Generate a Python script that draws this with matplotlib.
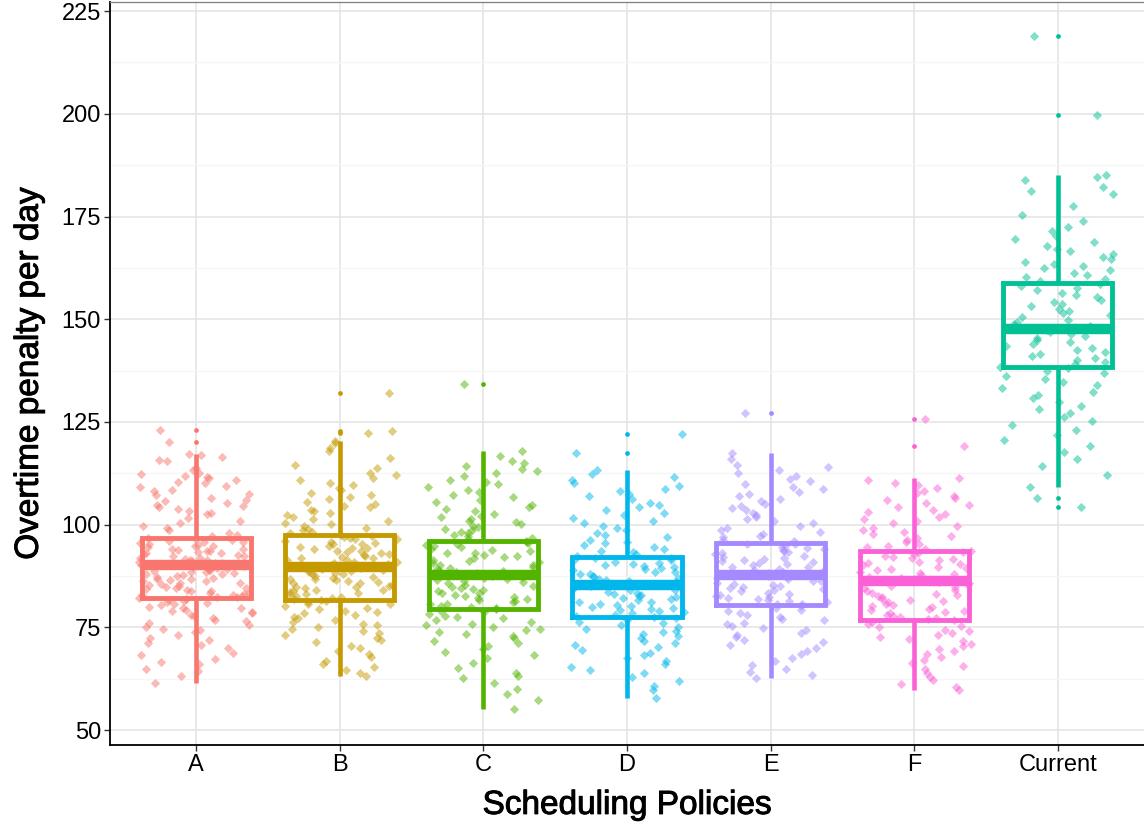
import numpy as np
import matplotlib
matplotlib.use("Agg")
import matplotlib.pyplot as plt
import matplotlib.patheffects as pe

plt.rcParams["font.family"] = ["Liberation Sans", "DejaVu Sans"]

policies = ["A", "B", "C", "D", "E", "F", "Current"]
colors = ["#F8766D", "#C49A00", "#53B400", "#00B6EB", "#A58AFF", "#FB61D7", "#00C094"]

# box summaries per policy
q1 = [82.1, 81.6, 79.6, 77.5, 80.4, 76.9, 138.3]
medians = [90.1, 89.6, 87.7, 85.4, 87.7, 86.2, 147.7]
q3 = [96.8, 97.4, 96.1, 92.1, 95.5, 93.5, 158.8]
whisker_lo = [61.4, 63.3, 55.1, 57.9, 62.8, 59.7, 109.1]
whisker_hi = [117.2, 120.4, 118.0, 113.3, 117.4, 111.3, 185.0]
outliers = [
    [123.1, 120.1],
    [132.0, 122.9, 122.3],
    [134.2],
    [122.1, 117.4],
    [127.3],
    [125.7, 119.2],
    [219.0, 199.8, 106.6, 104.4],
]

# daily overtime penalties, one list per policy
pen_a = [123.1, 120.1, 117.2, 117.0, 116.4, 115.8, 115.6, 113.7, 113.3, 112.6, 112.3, 111.5, 111.4, 111.8,
         110.8, 110.5, 110.2, 109.4, 109.3, 108.5, 108.2, 107.2, 107.4, 106.5, 106.1, 105.7, 105.3, 104.8,
         104.5, 104.4, 103.8, 103.3, 102.8, 102.5, 101.7, 100.9, 100.3, 99.6, 99.2, 98.8, 98.1, 97.5, 97.2,
         96.7, 96.5, 96.3, 96.0, 95.9, 95.7, 95.5, 95.2, 95.1, 94.9, 94.8, 94.5, 94.2, 94.1, 93.9, 93.7,
         93.6, 93.4, 93.2, 93.0, 92.9, 92.7, 92.4, 92.3, 92.0, 91.8, 91.7, 91.5, 91.3, 91.1, 90.9, 90.8,
         90.6, 90.4, 90.3, 90.2, 90.1, 90.0, 89.8, 89.7, 89.5, 89.3, 89.1, 88.9, 88.8, 88.6, 88.4, 88.2,
         88.1, 87.9, 87.7, 87.5, 87.2, 87.0, 86.9, 86.7, 86.5, 86.4, 86.2, 85.9, 85.8, 85.5, 85.3, 85.2,
         84.8, 84.7, 84.5, 84.3, 84.0, 83.9, 83.8, 83.5, 83.3, 83.2, 82.9, 82.8, 82.6, 82.5, 82.3, 82.2,
         81.9, 81.6, 81.4, 81.2, 80.9, 80.6, 80.5, 80.1, 79.8, 79.7, 79.2, 78.9, 78.8, 78.6, 78.1, 77.9,
         77.4, 76.8, 76.5, 76.2, 75.6, 75.1, 74.7, 74.4, 73.9, 73.2, 72.4, 71.9, 71.3, 70.7, 70.1, 68.9,
         68.2, 67.4, 66.5, 66.1, 64.9, 64.4, 63.2, 61.4]
pen_b = [132.0, 122.9, 122.3, 120.4, 119.8, 118.7, 117.9, 116.3, 114.5, 113.7, 112.6, 112.1, 111.3, 110.8,
         110.2, 109.7, 108.9, 108.4, 107.6, 107.3, 106.8, 106.2, 105.5, 105.1, 104.6, 104.2, 103.7, 103.4,
         102.9, 102.3, 101.8, 101.4, 100.9, 100.5, 100.1, 99.7, 99.3, 98.9, 98.6, 98.2, 97.9, 97.6,
         97.3, 97.1, 96.8, 96.6, 96.5, 96.1, 95.8, 95.6, 95.3, 95.2, 94.9, 94.6, 94.4, 94.3, 94.0, 93.7,
         93.5, 93.4, 93.1, 92.8, 92.6, 92.5, 92.2, 91.9, 91.8, 91.5, 91.3, 91.0, 90.9, 90.7, 90.4, 90.2,
         90.0, 89.9, 89.7, 89.6, 89.5, 89.3, 89.1, 88.8, 88.7, 88.4, 88.2, 88.0, 87.9, 87.6, 87.4, 87.1,
         86.9, 86.8, 86.5, 86.3, 86.0, 85.8, 85.7, 85.4, 85.1, 84.9, 84.8, 84.5, 84.2, 84.1, 83.8, 83.6,
         83.3, 83.1, 82.9, 82.7, 82.4, 82.2, 82.0, 81.8,
         81.4, 81.1, 80.8, 80.6, 80.2, 79.8, 79.5, 79.1, 78.7, 78.4, 78.0, 77.6, 77.3, 76.9, 76.4, 75.9,
         75.5, 75.2, 74.6, 74.1, 73.7, 73.1, 72.5, 72.0, 71.4, 70.6, 69.9, 69.2, 68.5, 67.8, 66.9, 66.2,
         65.4, 64.7, 63.9, 63.3]
pen_c = [134.2, 118.0, 116.8, 115.4, 114.9, 114.2, 113.6, 113.1, 112.5, 111.9, 111.0, 110.4, 109.8, 109.2,
         108.5, 107.9, 107.3, 106.8, 106.1, 105.5, 104.9, 104.3, 103.8, 103.3, 102.7, 102.2, 101.9, 101.4,
         100.9, 100.6, 100.2, 99.7, 99.4, 99.0, 98.6, 98.3, 97.9, 97.6, 97.2, 96.8, 96.5,
         96.0, 95.8, 95.5, 95.3, 95.0, 94.8, 94.5, 94.1, 93.9, 93.6, 93.2, 93.0, 92.7, 92.3, 92.1, 91.8,
         91.4, 91.2, 90.9, 90.6, 90.3, 90.1, 89.8, 89.5, 89.3, 89.0, 88.7, 88.5, 88.2, 88.0, 87.8, 87.7,
         87.5, 87.3, 87.0, 86.8, 86.5, 86.2, 86.0, 85.7, 85.4, 85.2, 84.9, 84.6, 84.3, 84.1, 83.8, 83.5,
         83.3, 83.0, 82.7, 82.4, 82.2, 81.9, 81.6, 81.4, 81.1, 80.8, 80.6, 80.3, 80.0, 79.8,
         79.4, 79.0, 78.7, 78.3, 77.9, 77.6, 77.2, 76.8, 76.3, 75.9, 75.6, 75.2, 74.7, 74.3, 73.8, 73.5,
         72.9, 72.4, 71.8, 71.2, 70.6, 69.8, 69.1, 68.3, 67.5, 66.4, 65.2, 64.0, 63.3, 62.8, 61.6, 60.1,
         58.9, 57.4, 55.1]
pen_d = [122.1, 117.4, 113.3, 112.4, 111.6, 110.9, 110.1, 109.4, 108.8, 108.1, 107.5, 106.9, 106.2, 105.4,
         104.8, 104.2, 103.5, 102.9, 102.3, 101.6, 101.0, 100.4, 99.7, 99.1, 98.6, 98.0, 97.5, 97.0, 96.4,
         95.9, 95.5, 95.0, 94.6, 94.1, 93.7, 93.3, 92.9, 92.5,
         92.0, 91.8, 91.5, 91.3, 91.0, 90.7, 90.5, 90.2, 89.9, 89.7, 89.4, 89.2, 88.9, 88.6, 88.4, 88.1,
         87.9, 87.6, 87.4, 87.1, 86.9, 86.6, 86.3, 86.1, 85.8, 85.6, 85.4, 85.3, 85.0, 84.8, 84.5, 84.2,
         84.0, 83.7, 83.5, 83.2, 82.9, 82.7, 82.4, 82.1, 81.9, 81.6, 81.3, 81.1, 80.8, 80.5, 80.3, 80.0,
         79.7, 79.5, 79.2, 78.9, 78.7, 78.4, 78.1, 77.9, 77.6,
         77.3, 76.9, 76.4, 76.0, 75.6, 75.1, 74.7, 74.2, 73.8, 73.3, 72.9, 72.4, 71.8, 71.3, 70.7, 70.2,
         69.5, 68.9, 68.3, 67.6, 66.9, 66.1, 65.4, 64.6, 63.8, 62.9, 61.9, 60.8, 59.7, 57.9]
pen_e = [127.3, 117.4, 115.9, 114.6, 114.1, 113.2, 112.5, 111.8, 111.2, 110.7, 110.0, 109.3, 108.6, 108.0,
         107.4, 106.9, 106.3, 105.7, 105.1, 104.6, 104.0, 103.5, 102.9, 102.4, 101.8, 101.3, 100.8, 100.3,
         99.8, 99.3, 98.8, 98.3, 97.8, 97.3, 96.9, 96.4, 96.0,
         95.4, 95.2, 94.9, 94.6, 94.4, 94.1, 93.8, 93.6, 93.3, 93.0, 92.8, 92.5, 92.2, 92.0, 91.7, 91.4,
         91.2, 90.9, 90.6, 90.4, 90.1, 89.8, 89.6, 89.3, 89.0, 88.8, 88.5, 88.2, 88.0, 87.8, 87.7, 87.5,
         87.2, 87.0, 86.7, 86.4, 86.2, 85.9, 85.6, 85.4, 85.1, 84.8, 84.6, 84.3, 84.0, 83.8, 83.5, 83.2,
         83.0, 82.7, 82.4, 82.2, 81.9, 81.6, 81.4, 81.1, 80.8, 80.6,
         80.2, 79.8, 79.3, 78.9, 78.5, 78.0, 77.6, 77.1, 76.7, 76.2, 75.8, 75.3, 74.8, 74.3, 73.7, 73.2,
         72.6, 72.0, 71.4, 70.7, 70.0, 69.3, 68.5, 67.6, 66.8, 65.9, 65.0, 64.1, 63.4, 62.8]
pen_f = [125.7, 119.2, 111.3, 110.9, 110.2, 109.6, 108.9, 108.3, 107.7, 107.1, 106.5, 105.9, 105.3, 104.7,
         104.2, 103.6, 103.0, 102.5, 101.9, 101.4, 100.8, 100.3, 99.8, 99.2, 98.7, 98.2, 97.7, 97.2, 96.8,
         96.3, 95.8, 95.4, 94.9, 94.5, 94.1, 93.7,
         93.4, 93.1, 92.8, 92.5, 92.2, 91.9, 91.6, 91.3, 91.0, 90.7, 90.4, 90.1, 89.8, 89.5, 89.2, 88.9,
         88.6, 88.3, 88.0, 87.7, 87.4, 87.1, 86.8, 86.5, 86.3, 86.2, 86.0, 85.7, 85.4, 85.1, 84.8, 84.5,
         84.1, 83.8, 83.5, 83.2, 82.9, 82.6, 82.3, 82.0, 81.7, 81.4, 81.1, 80.8, 80.5, 80.2, 79.9, 79.6,
         79.3, 79.0, 78.7, 78.4, 78.1, 77.8, 77.5, 77.2, 77.0,
         76.7, 76.3, 75.9, 75.4, 75.0, 74.5, 74.1, 73.6, 73.1, 72.7, 72.1, 71.6, 71.0, 70.4, 69.8, 69.2,
         68.5, 67.8, 67.1, 66.4, 65.6, 64.8, 63.9, 63.0, 62.1, 61.3, 60.5, 59.7]
pen_current = [219.0, 199.8, 185.0, 184.6, 183.9, 182.1, 181.2, 180.4, 177.6, 175.3, 173.8, 172.5, 171.4,
               170.2, 169.5, 168.8, 167.9, 167.1, 166.5, 165.8, 165.1, 164.6, 164.0, 163.5, 163.0, 162.4,
               161.9, 161.3, 160.8, 160.3, 159.8, 159.2,
               158.6, 158.1, 157.5, 157.0, 156.4, 155.9, 155.3, 154.8, 154.3, 153.7, 153.2, 152.6, 152.1,
               151.6, 151.0, 150.5, 149.9, 149.4, 148.9, 148.4, 147.9, 147.7, 147.4, 147.0, 146.5, 146.0,
               145.5, 145.0, 144.5, 144.0, 143.5, 143.0, 142.5, 142.0, 141.5, 141.0, 140.5, 140.0, 139.5,
               139.0, 138.5,
               138.1, 137.4, 136.8, 136.1, 135.4, 134.7, 133.9, 133.2, 132.4, 131.6, 130.8, 129.9, 129.0,
               128.1, 127.2, 126.3, 125.3, 124.2, 123.1, 121.9, 120.6, 119.2, 117.8, 116.1, 114.3, 112.2,
               109.1, 106.6, 104.4]
penalties = [pen_a, pen_b, pen_c, pen_d, pen_e, pen_f, pen_current]

fig = plt.figure(figsize=(11.44, 8.26), dpi=100)
ax = fig.add_axes([110 / 1144, 81 / 826, 1 - 110 / 1144, 743 / 826])

positions = np.arange(1, len(policies) + 1)

# grid like theme_bw without the panel box
ax.set_axisbelow(True)
ax.set_yticks(np.arange(50, 226, 25))
ax.set_yticks(np.arange(62.5, 226, 25), minor=True)
ax.grid(True, which="major", color="#e5e5e5", linewidth=1.2)
ax.grid(True, which="minor", axis="y", color="#f5f5f5", linewidth=0.9)
ax.tick_params(axis="y", which="minor", length=0)

stats = []
for i in range(len(policies)):
    stats.append({
        "med": medians[i], "q1": q1[i], "q3": q3[i],
        "whislo": whisker_lo[i], "whishi": whisker_hi[i],
        "fliers": outliers[i], "label": policies[i],
    })

parts = ax.bxp(stats, positions=positions, widths=0.76, showcaps=False,
               patch_artist=False, manage_ticks=False,
               boxprops=dict(linewidth=3.5, solid_joinstyle="miter"),
               whiskerprops=dict(linewidth=3.3, solid_capstyle="butt"),
               medianprops=dict(linewidth=7.5, solid_capstyle="butt"),
               flierprops=dict(marker="o", markersize=3.4, markeredgewidth=0))
for i, col in enumerate(colors):
    parts["boxes"][i].set_color(col)
    parts["medians"][i].set_color(col)
    parts["whiskers"][2 * i].set_color(col)
    parts["whiskers"][2 * i + 1].set_color(col)
    parts["fliers"][i].set_markerfacecolor(col)
    parts["fliers"][i].set_zorder(4)

# horizontal jitter for the raw points (hashed index, width 0.4 either side)
for k, (vals, col) in enumerate(zip(penalties, colors)):
    idx = np.arange(len(vals)) + 211 * k
    frac = np.modf(np.abs(np.sin(idx * 12.9898 + 78.233)) * 43758.5453)[0]
    offs = (frac - 0.5) * 0.8
    ax.scatter(positions[k] + offs, vals, marker="D", s=22, color=col,
               alpha=0.5, linewidths=0, zorder=3)

ax.set_xlim(0.4, 7.6)
ax.set_ylim(46.4, 227.2)
ax.set_xticks(positions)
ax.set_xticklabels(policies)

for side in ["left", "bottom"]:
    ax.spines[side].set_color("black")
    ax.spines[side].set_linewidth(1.3)
ax.spines["top"].set_color("#7f7f7f")
ax.spines["top"].set_linewidth(0.9)
ax.spines["right"].set_visible(False)

ax.tick_params(axis="both", which="major", labelsize=17, labelcolor="black",
               color="#333333", length=4, width=1.0, pad=2.5)

thick = [pe.withStroke(linewidth=0.7, foreground="black")]
ax.set_xlabel("Scheduling Policies", fontsize=24, labelpad=10, path_effects=thick)
ax.set_ylabel("Overtime penalty per day", fontsize=24, labelpad=12, path_effects=thick)

fig.savefig("out.png", dpi=100, facecolor="white")
